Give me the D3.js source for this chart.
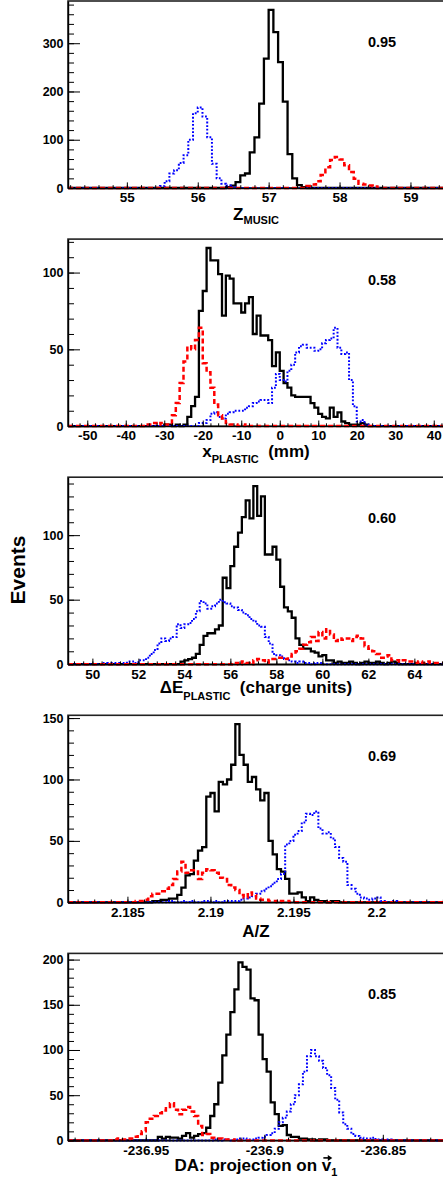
<!DOCTYPE html>
<html>
<head>
<meta charset="utf-8">
<script src="https://cdn.jsdelivr.net/npm/d3@7"></script>
<style>
  body { margin: 0; background: #fff; }
  svg { display: block; }
  text { font-family: "Liberation Sans", Arial, Helvetica, sans-serif; font-weight: bold; }
</style>
</head>
<body>
<script>
// ---- data ----
// each histogram: first bin low edge + bin contents; bin width shared per panel

// Z_MUSIC
const zDomain = [54.17, 59.6]
const zTicks = [55, 56, 57, 58, 59]
const zYTicks = [0, 100, 200, 300]
const zBinWidth = 1 / 15
const zBlackStart = 56.4
const zBlack = [2, 5, 12, 26, 30, 74, 105, 175, 268, 369, 323, 261, 179, 70, 20, 6, 2]
const zBlueStart = 55 + 7 / 15
const zBlue = [4, 14, 30, 37, 52, 68, 100, 155, 167, 148, 105, 50, 20, 9, 5, 2]
const zRedStart = 57 + 8 / 15
const zRed = [4, 7, 14, 27, 43, 58, 64, 59, 47, 33, 19, 9, 7, 5, 3]

// x_PLASTIC (mm)
const xpDomain = [-55, 45]
const xpTicks = [-50, -40, -30, -20, -10, 0, 10, 20, 30, 40]
const xpYTicks = [0, 50, 100]
const xpBinWidth = 1
const xpBlackStart = -30
const xpBlack = [1, 1, 0, 1, 0, 1, 6, 13, 19, 75, 88, 116, 108, 108, 99, 72, 98, 96, 80, 80,
  74, 80, 84, 60, 72, 59, 59, 56, 39, 48, 36, 28, 25, 20, 19, 19, 19, 19, 15, 12,
  8, 6, 5, 12, 6, 9, 3, 2, 1, 1, 1, 2, 1]
const xpBlueStart = -21
const xpBlue = [2, 2, 4, 8, 9, 6, 5, 8, 9, 10, 10, 10, 12, 13, 15, 16, 17, 17, 15, 25,
  34, 30, 29, 36, 40, 48, 52, 53, 51, 51, 49, 50, 54, 56, 57, 64, 51, 47, 48, 30,
  13, 3, 4, 1]
const xpRedStart = -35
const xpRed = [1, 1, 2, 1, 2, 1, 1, 7, 15, 28, 42, 52, 50, 56, 64, 41, 35, 25, 14, 7,
  5, 2, 1, 1, 0, 0, 1]

// Delta E_PLASTIC (charge units)
const deDomain = [48.94, 65.68]
const deTicks = [50, 52, 54, 56, 58, 60, 62, 64]
const deYTicks = [0, 50, 100]
const deBinWidth = 1 / 6
const deBlackStart = 53 + 5 / 6
const deBlack = [2, 3, 4, 5, 8, 15, 22, 24, 24, 27, 30, 67, 59, 76, 91, 102, 114, 127, 113, 138,
  115, 130, 85, 85, 91, 81, 60, 44, 41, 36, 20, 15, 12, 12, 10, 9, 6, 7, 3, 3,
  1, 2, 1, 1, 2, 1, 0, 1, 2, 1, 1, 2, 1, 0, 1, 2, 1]
const deBlueStart = 50.5
const deBlue = [1, 0, 1, 0, 1, 1, 2, 2, 1, 3, 3, 5, 8, 11, 16, 20, 18, 20, 21, 31,
  28, 31, 32, 35, 41, 49, 47, 43, 45, 47, 50, 48, 47, 45, 44, 42, 40, 38, 35, 33,
  30, 29, 21, 16, 8, 7, 6, 4, 3, 2, 1, 2, 1, 1, 0, 1, 1]
const deRedStart = 56 + 1 / 6
const deRed = [1, 0, 2, 1, 0, 3, 4, 3, 1, 3, 4, 5, 5, 4, 6, 8, 10, 12, 15, 17,
  21, 18, 25, 20, 27, 23, 18, 20, 19, 20, 18, 21, 22, 20, 14, 12, 10, 8, 5, 6,
  7, 3, 3, 2, 3, 2, 2, 1, 2, 1, 2, 1, 1, 1, 1]

// A/Z
const azDomain = [2.18142, 2.20461]
const azTicks = [2.185, 2.19, 2.195, 2.2]
const azYTicks = [0, 50, 100, 150]
const azBinWidth = 0.00025
const azBlackStart = 2.1865
const azBlack = [1, 1, 2, 2, 3, 3, 6, 12, 22, 23, 34, 42, 45, 86, 89, 74, 98, 96, 100, 112,
  145, 120, 112, 98, 102, 92, 83, 89, 50, 39, 27, 25, 19, 7, 7, 8, 4, 1, 4, 2,
  1, 1, 0, 1, 1]
const azBlueStart = 2.1875
const azBlue = [1, 0, 0, 1, 0, 1, 0, 0, 1, 1, 0, 1, 0, 1, 1, 1, 1, 2, 3, 4,
  5, 7, 9, 11, 13, 16, 19, 23, 47, 50, 55, 58, 65, 72, 71, 74, 60, 56, 57, 52,
  45, 36, 33, 14, 11, 7, 4, 3, 2, 3, 4, 1, 0, 0, 1]
const azRedStart = 2.1855
const azRed = [1, 1, 2, 5, 7, 7, 9, 11, 14, 19, 25, 33, 24, 26, 25, 19, 24, 27, 26, 24,
  20, 19, 14, 12, 10, 6, 4, 8, 6, 3, 2, 2, 1, 1, 0, 1, 1]

// DA: projection on v1
const daDomain = [-236.9828, -236.8204]
const daTicks = [-236.95, -236.9, -236.85]
const daYTicks = [0, 50, 100, 150, 200]
const daBinWidth = 0.0017
const daBlackStart = -236.9449
const daBlack = [4, 2, 4, 3, 3, 2, 5, 8, 3, 5, 7, 8, 14, 27, 40, 64, 94, 117, 142, 167,
  197, 192, 189, 157, 155, 117, 90, 76, 42, 29, 16, 17, 6, 4, 4, 2, 2, 1, 1, 0,
  1, 1]
const daBlueStart = -236.9211
const daBlue = [1, 0, 1, 1, 0, 1, 2, 2, 1, 1, 2, 3, 4, 6, 8, 13, 20, 25, 32, 40,
  50, 62, 76, 93, 100, 93, 88, 80, 72, 58, 45, 31, 18, 13, 7, 5, 3, 2, 2, 3,
  1, 1, 0, 1]
const daRedStart = -236.9636
const daRed = [1, 2, 1, 1, 2, 4, 7, 10, 20, 24, 27, 30, 33, 37, 41, 34, 29, 34, 37, 32,
  27, 16, 6, 7, 3, 2, 2, 1, 1, 0, 1]

const corrValues = ["0.95", "0.58", "0.60", "0.69", "0.85"]
const xMinorSteps = [0.2, 2, 0.4, 0.001, 0.01]
const yMinorSteps = [20, 10, 10, 10, 10]
const axisTitles = [
  [["Z", "main"], ["MUSIC", "sub"]],
  [["x", "main"], ["PLASTIC", "sub"], ["  (mm)", "main"]],
  [["\u0394E", "main"], ["PLASTIC", "sub"], ["  (charge units)", "main"]],
  [["A/Z", "main"]],
  [["DA: projection on ", "main"], ["v", "vec"], ["1", "sub"]]
]
const yTitle = "Events"

const panels = [
  { domain: zDomain, ticks: zTicks, yTicks: zYTicks, bw: zBinWidth,
    series: [[zBlackStart, zBlack], [zBlueStart, zBlue], [zRedStart, zRed]] },
  { domain: xpDomain, ticks: xpTicks, yTicks: xpYTicks, bw: xpBinWidth,
    series: [[xpBlackStart, xpBlack], [xpBlueStart, xpBlue], [xpRedStart, xpRed]] },
  { domain: deDomain, ticks: deTicks, yTicks: deYTicks, bw: deBinWidth,
    series: [[deBlackStart, deBlack], [deBlueStart, deBlue], [deRedStart, deRed]] },
  { domain: azDomain, ticks: azTicks, yTicks: azYTicks, bw: azBinWidth,
    series: [[azBlackStart, azBlack], [azBlueStart, azBlue], [azRedStart, azRed]] },
  { domain: daDomain, ticks: daTicks, yTicks: daYTicks, bw: daBinWidth,
    series: [[daBlackStart, daBlack], [daBlueStart, daBlue], [daRedStart, daRed]] }
]

// ---- layout ----
const W = 443, H = 1182
const plotLeft = 68, plotRight = 453   // right frame edge falls outside the picture
const firstTop = 1, panelStep = 238.1, panelH = 187
const titleDy = [31.5, 30.5, 29, 35, 31]   // title baseline below the axis
const subShift = [4, 6.5, 7, 0, 5]

const styles = [
  { color: "#000", width: 2.3, dash: null },
  { color: "#0000ff", width: 2, dash: "1.8,1.8" },
  { color: "#ff0000", width: 2.5, dash: "5,3" }
]

const fmt = d => String(+d.toFixed(4))

const svg = d3.select("body").append("svg")
    .attr("width", W)
    .attr("height", H)

panels.forEach((p, i) => {
  const top = firstTop + i * panelStep
  const bottom = top + panelH
  const x = d3.scaleLinear().domain(p.domain).range([plotLeft, plotRight])
  const yMax = 1.05 * d3.max(p.series[0][1])
  const y = d3.scaleLinear().domain([0, yMax]).range([bottom, top])
  const g = svg.append("g")

  g.append("clipPath").attr("id", "clip" + i)
    .append("rect")
    .attr("x", plotLeft).attr("y", top - 2)
    .attr("width", plotRight - plotLeft).attr("height", panelH + 6)

  // frame
  g.append("rect")
    .attr("x", plotLeft).attr("y", top)
    .attr("width", plotRight - plotLeft).attr("height", panelH)
    .attr("fill", "none").attr("stroke", "#222").attr("stroke-width", 1.6)

  // histograms
  const line = d3.line()
    .x(d => x(d[0]))
    .y(d => y(d[1]))
    .curve(d3.curveStepAfter)

  const hg = g.append("g").attr("clip-path", `url(#clip${i})`)
  p.series.forEach(([start, vals], s) => {
    let pts = [[p.domain[0], 0]]
    vals.forEach((v, k) => pts.push([start + k * p.bw, v]))
    pts.push([start + vals.length * p.bw, 0], [p.domain[1], 0])
    hg.append("path")
      .attr("d", line(pts))
      .attr("fill", "none")
      .attr("stroke", styles[s].color)
      .attr("stroke-width", styles[s].width)
      .attr("stroke-dasharray", styles[s].dash)
  })

  // minor ticks
  const xStep = xMinorSteps[i], yStep = yMinorSteps[i]
  const xMinor = d3.range(Math.ceil(p.domain[0] / xStep), Math.floor(p.domain[1] / xStep) + 1).map(k => k * xStep)
  const yMinor = d3.range(0, Math.floor(yMax / yStep) + 1).map(k => k * yStep)

  g.append("g")
    .attr("transform", `translate(0,${bottom})`)
    .call(d3.axisBottom(x).tickValues(xMinor).tickSize(-2.8).tickFormat(""))
    .call(a => a.select(".domain").remove())
  g.append("g")
    .attr("transform", `translate(${plotLeft},0)`)
    .call(d3.axisLeft(y).tickValues(yMinor).tickSize(-6).tickFormat(""))
    .call(a => a.select(".domain").remove())

  // major ticks + labels
  g.append("g")
    .attr("transform", `translate(0,${bottom})`)
    .call(d3.axisBottom(x).tickValues(p.ticks).tickSize(-5.6).tickSizeOuter(0)
      .tickPadding(4.8).tickFormat(fmt))
    .attr("font-family", null).attr("font-size", 13.5)
    .call(a => a.select(".domain").attr("stroke-width", 1.4))
  g.append("g")
    .attr("transform", `translate(${plotLeft},0)`)
    .call(d3.axisLeft(y).tickValues(p.yTicks).tickSize(-12).tickSizeOuter(0)
      .tickPadding(4.5).tickFormat(fmt))
    .attr("font-family", null).attr("font-size", 12.5)
    .call(a => a.select(".domain").attr("stroke-width", 1.4))

  // correlation value
  g.append("text")
    .attr("x", 382).attr("y", top + 46)
    .attr("text-anchor", "middle")
    .style("font-size", "14.5px")
    .text(corrValues[i])

  // axis title
  const t = g.append("text")
    .attr("x", 256).attr("y", bottom + titleDy[i])
    .attr("text-anchor", "middle")
    .style("font-size", "17px")
    .style("white-space", "pre")
  let prevSub = false, vecIndex = -1, nChars = 0
  axisTitles[i].forEach(([str, kind]) => {
    const ts = t.append("tspan").text(str)
    if (kind === "sub") {
      ts.style("font-size", "11px").attr("dy", subShift[i])
      prevSub = true
    } else {
      if (prevSub) ts.attr("dy", -subShift[i])
      prevSub = false
      if (kind === "vec") vecIndex = nChars
    }
    nChars += str.length
  })
  if (vecIndex >= 0) {
    const e = t.node().getExtentOfChar(vecIndex)
    const ay = bottom + titleDy[i] - 13.5
    const x0 = e.x + 1.5, x1 = e.x + e.width + 0.5
    g.append("path")
      .attr("d", `M${x0},${ay}H${x1 - 1}`)
      .attr("stroke", "#000").attr("stroke-width", 1.6)
    g.append("path")
      .attr("d", `M${x1 - 4},${ay - 3}L${x1 + 0.5},${ay}L${x1 - 4},${ay + 3}Z`)
      .attr("fill", "#000")
  }
})

// shared y title
svg.append("text")
  .attr("transform", "translate(25,570) rotate(-90)")
  .attr("text-anchor", "middle")
  .style("font-size", "21px")
  .text(yTitle)
</script>
</body>
</html>
